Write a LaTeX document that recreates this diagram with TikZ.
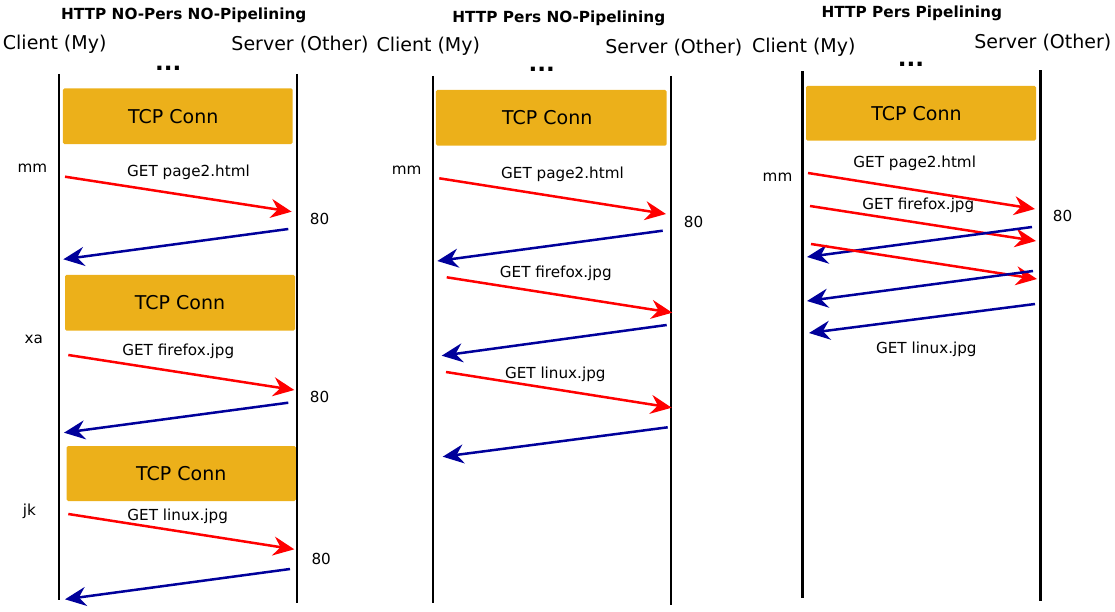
\documentclass[tikz,border=0pt]{standalone}
\usepackage{fontspec}
\setmainfont{DejaVu Sans}
\usetikzlibrary{arrows.meta}
\definecolor{connfill}{RGB}{236,176,26}
\definecolor{respblue}{RGB}{0,0,155}

\begin{document}
\begin{tikzpicture}[
    x=1pt, y=-1pt,
    %% -- Text styles --------------------------------------------------------
    %%
    %%   All text nodes are placed by their baseline.
    paneltitle/.style={font=\fontsize{15.3}{18}\selectfont\bfseries, anchor=base, inner sep=0pt},
    rolelabel/.style={font=\fontsize{19}{22}\selectfont, anchor=base, inner sep=0pt},
    gapdots/.style={font=\fontsize{23}{26}\selectfont\bfseries, anchor=base, inner sep=0pt},
    smalllabel/.style={font=\fontsize{15.2}{18}\selectfont, anchor=base, inner sep=0pt},
    %% -- TCP connection box -------------------------------------------------
    connbox/.style={
        fill=connfill,
        rounded corners=1.5pt,
        minimum width=230pt,
        minimum height=55pt,
        inner sep=0pt,
        font=\fontsize{19}{22}\selectfont,
    },
    %% -- Edge styles --------------------------------------------------------
    lifeline/.style={line width=2.7pt, black},
    msg/.style={line width=2.5pt, -{Stealth[length=21pt, width=19pt, inset=7pt]}},
    req/.style={msg, red},          % request  -- red
    resp/.style={msg, respblue},    % response -- blue
]
\useasboundingbox (0,0) rectangle (1115,612);

%% -- Panel 1: HTTP NO-Pers NO-Pipelining ------------------------------------

\node[paneltitle] (np-title)  at (183.8,19.5) {HTTP NO-Pers NO-Pipelining};
\node[rolelabel]  (np-client) at (54.7,49.3)  {Client (My)};
\node[rolelabel]  (np-server) at (300,51)     {Server (Other)};
\node[gapdots]    (np-dots)   at (168.3,70.7) {...};

\coordinate (np-c-top) at (59,74);
\coordinate (np-c-bot) at (59,600);
\coordinate (np-s-top) at (297,74);
\coordinate (np-s-bot) at (297,603);
\draw[lifeline] (np-c-top) -- (np-c-bot);
\draw[lifeline] (np-s-top) -- (np-s-bot);

\node[connbox, minimum width=229.7pt, minimum height=55.7pt] (np-conn1) at (177.8,116.2) {\hspace*{-9pt}TCP Conn};
\node[connbox, minimum height=55.7pt] (np-conn2) at (180,302.8) {TCP Conn};
\node[connbox, minimum width=229.3pt] (np-conn3) at (181.3,473.5) {TCP Conn};

\node[smalllabel] (np-mm)      at (32.5,173)    {mm};
\node[smalllabel] (np-page2)   at (188.5,176.5) {GET page2.html};
\node[smalllabel] (np-port1)   at (319.5,224.5) {80};
\node[smalllabel] (np-xa)      at (33.7,343)    {xa};
\node[smalllabel] (np-firefox) at (178.2,355)   {GET firefox.jpg};
\node[smalllabel] (np-port2)   at (319.5,402)   {80};
\node[smalllabel] (np-jk)      at (29.3,515)    {jk};
\node[smalllabel] (np-linux)   at (177.7,520)   {GET linux.jpg};
\node[smalllabel] (np-port3)   at (321.2,564)   {80};

\coordinate (np-req1-a)  at (65,176.7);
\coordinate (np-req1-b)  at (291.7,211.7);
\coordinate (np-resp1-a) at (288.3,229);
\coordinate (np-resp1-b) at (63.3,259.3);
\coordinate (np-req2-a)  at (68.3,355);
\coordinate (np-req2-b)  at (294.3,390);
\coordinate (np-resp2-a) at (288.3,402.7);
\coordinate (np-resp2-b) at (64,432.7);
\coordinate (np-req3-a)  at (68.3,514);
\coordinate (np-req3-b)  at (294.3,549.3);
\coordinate (np-resp3-a) at (290,569);
\coordinate (np-resp3-b) at (65,599.3);

\draw[req]  (np-req1-a)  -- (np-req1-b);
\draw[resp] (np-resp1-a) -- (np-resp1-b);
\draw[req]  (np-req2-a)  -- (np-req2-b);
\draw[resp] (np-resp2-a) -- (np-resp2-b);
\draw[req]  (np-req3-a)  -- (np-req3-b);
\draw[resp] (np-resp3-a) -- (np-resp3-b);

%% -- Panel 2: HTTP Pers NO-Pipelining ---------------------------------------

\node[paneltitle] (pn-title)  at (558.8,22.5) {HTTP Pers NO-Pipelining};
\node[rolelabel]  (pn-client) at (428.3,51.7) {Client (My)};
\node[rolelabel]  (pn-server) at (673.8,53.3) {Server (Other)};
\node[gapdots]    (pn-dots)   at (541.7,72)   {...};

\coordinate (pn-c-top) at (433,76);
\coordinate (pn-c-bot) at (433,603);
\coordinate (pn-s-top) at (671,76);
\coordinate (pn-s-bot) at (671,605);
\draw[lifeline] (pn-c-top) -- (pn-c-bot);
\draw[lifeline] (pn-s-top) -- (pn-s-bot);

\node[connbox, minimum width=230.7pt, minimum height=55.7pt] (pn-conn) at (551.3,117.8) {\hspace*{-8pt}TCP Conn};

\node[smalllabel] (pn-mm)      at (406.7,175)   {mm};
\node[smalllabel] (pn-page2)   at (562.5,179)   {GET page2.html};
\node[smalllabel] (pn-port)    at (693.5,227.3) {80};
\node[smalllabel] (pn-firefox) at (555.8,277.3) {GET firefox.jpg};
\node[smalllabel] (pn-linux)   at (555.3,378.3) {GET linux.jpg};

\coordinate (pn-req1-a)  at (439.3,178.3);
\coordinate (pn-req1-b)  at (666,214);
\coordinate (pn-resp1-a) at (662.7,230.7);
\coordinate (pn-resp1-b) at (437.3,261);
\coordinate (pn-req2-a)  at (446.7,277.3);
\coordinate (pn-req2-b)  at (672.3,312.7);
\coordinate (pn-resp2-a) at (666.7,325);
\coordinate (pn-resp2-b) at (441.7,355.7);
\coordinate (pn-req3-a)  at (446,372);
\coordinate (pn-req3-b)  at (671.7,407.7);
\coordinate (pn-resp3-a) at (667.7,427.3);
\coordinate (pn-resp3-b) at (442.7,456.7);

\draw[req]  (pn-req1-a)  -- (pn-req1-b);
\draw[resp] (pn-resp1-a) -- (pn-resp1-b);
\draw[req]  (pn-req2-a)  -- (pn-req2-b);
\draw[resp] (pn-resp2-a) -- (pn-resp2-b);
\draw[req]  (pn-req3-a)  -- (pn-req3-b);
\draw[resp] (pn-resp3-a) -- (pn-resp3-b);

%% -- Panel 3: HTTP Pers Pipelining ------------------------------------------

\node[paneltitle] (pp-title)  at (911.8,18)    {HTTP Pers Pipelining};
\node[rolelabel]  (pp-client) at (803.8,52.7)  {Client (My)};
\node[rolelabel]  (pp-server) at (1042.8,48.3) {Server (Other)};
\node[gapdots]    (pp-dots)   at (911,66.7)    {...};

\coordinate (pp-c-top) at (802.5,71.5);
\coordinate (pp-c-bot) at (802.5,598);
\coordinate (pp-s-top) at (1040.5,70.5);
\coordinate (pp-s-bot) at (1040.5,600.5);
\draw[lifeline] (pp-c-top) -- (pp-c-bot);
\draw[lifeline] (pp-s-top) -- (pp-s-bot);

\node[connbox, minimum height=54.7pt] (pp-conn) at (921,113.3) {\hspace*{-9pt}TCP Conn};

\node[smalllabel] (pp-page2)   at (914.7,167.3) {GET page2.html};
\node[smalllabel] (pp-mm)      at (777.5,181.7) {mm};
\node[smalllabel] (pp-firefox) at (918.3,210)   {GET firefox.jpg};
\node[smalllabel] (pp-port)    at (1062.5,222)  {80};
\node[smalllabel] (pp-linux)   at (926.3,353.3) {GET linux.jpg};

%% requests go out back to back, responses follow
\coordinate (pp-req1-a)  at (808,173);
\coordinate (pp-req1-b)  at (1035,209);
\coordinate (pp-req2-a)  at (810,206);
\coordinate (pp-req2-b)  at (1036,241);
\coordinate (pp-resp1-a) at (1032,227);
\coordinate (pp-resp1-b) at (807,257);
\coordinate (pp-req3-a)  at (811,244);
\coordinate (pp-req3-b)  at (1037,279);
\coordinate (pp-resp2-a) at (1033,271);
\coordinate (pp-resp2-b) at (807,301);
\coordinate (pp-resp3-a) at (1035,304);
\coordinate (pp-resp3-b) at (809,333);

\draw[req]  (pp-req1-a)  -- (pp-req1-b);
\draw[req]  (pp-req2-a)  -- (pp-req2-b);
\draw[resp] (pp-resp1-a) -- (pp-resp1-b);
\draw[req]  (pp-req3-a)  -- (pp-req3-b);
\draw[resp] (pp-resp2-a) -- (pp-resp2-b);
\draw[resp] (pp-resp3-a) -- (pp-resp3-b);

\end{tikzpicture}
\end{document}
